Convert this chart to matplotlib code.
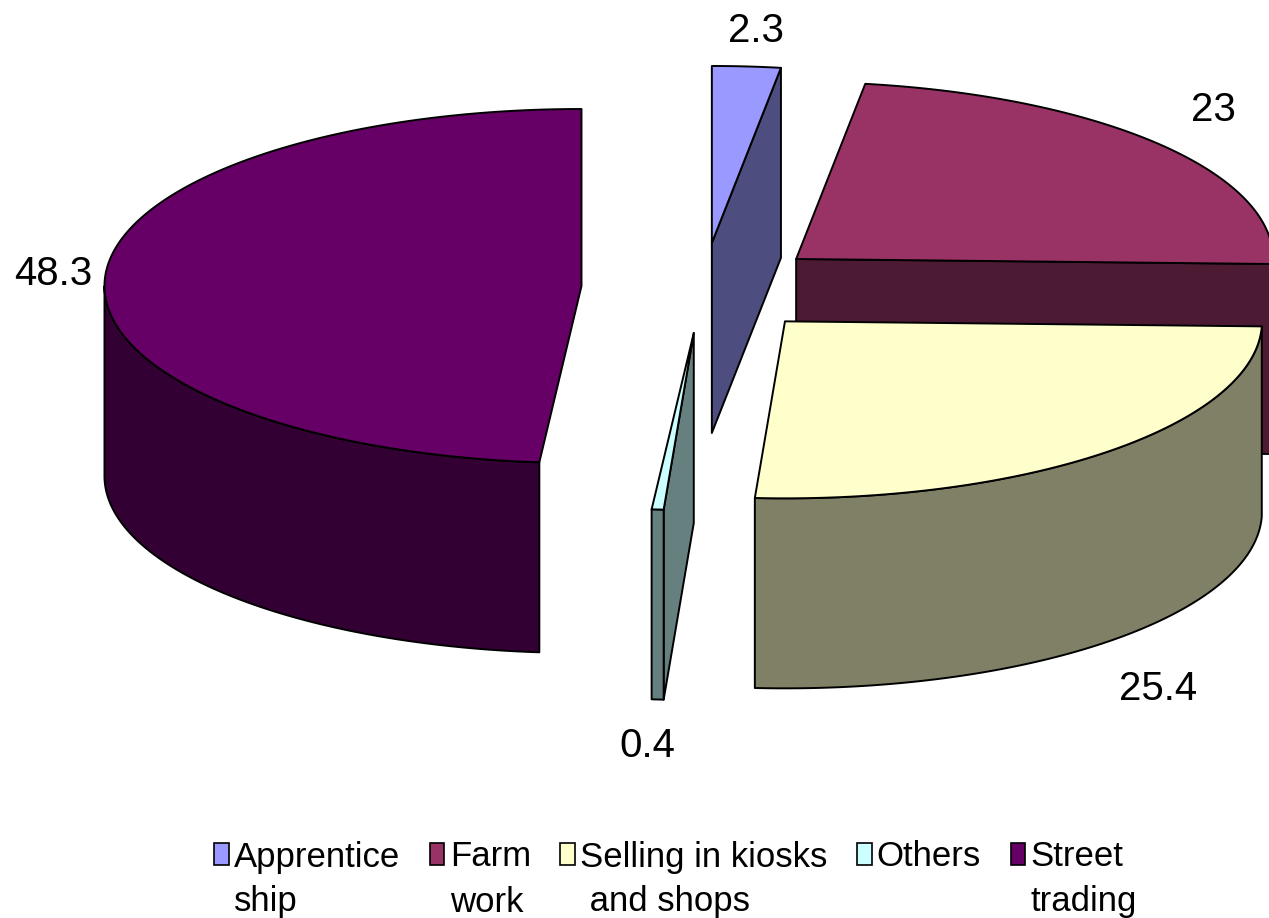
import numpy as np
import matplotlib
matplotlib.use("Agg")
import matplotlib.pyplot as plt
from matplotlib.patches import Polygon, Patch
from matplotlib.colors import to_rgb

plt.rcParams['font.family'] = ['Liberation Sans', 'DejaVu Sans']

# data
legend_first = ["Apprentice", "Farm", "Selling in kiosks", "Others", "Street"]
legend_second = ["ship", "work", " and shops", "", "trading"]
values = [2.3, 23, 25.4, 0.4, 48.3]
value_texts = ["2.3", "23", "25.4", "0.4", "48.3"]
top_colors = ["#9999FF", "#993366", "#FFFFCC", "#CCFFFF", "#660066"]

# geometry of the 3d pie (pixel space, y down)
cx, cy = 703, 288
rx, ry = 477, 177
depth = 190
explode = 0.255

def pt(c, th, down=0):
    t = np.radians(th)
    return (c[0] + rx * np.sin(t), c[1] - ry * np.cos(t) + down)

def arc(c, a, b, down=0):
    n = max(int(abs(b - a) * 2), 2)
    return [pt(c, t, down) for t in np.linspace(a, b, n)]

W, H = 1269, 918
fig = plt.figure(figsize=(W / 100, H / 100), dpi=100)
ax = fig.add_axes([0, 0, 1, 1])
ax.set_xlim(0, W)
ax.set_ylim(H, 0)
ax.axis('off')

total = sum(values)
edges = np.concatenate([[0], np.cumsum(values) / total * 360])

slices = []
for i in range(len(values)):
    a, b = edges[i], edges[i + 1]
    m = np.radians((a + b) / 2)
    c = (cx + explode * rx * np.sin(m), cy - explode * ry * np.cos(m))
    slices.append((c[1], i, a, b, c))

kw = dict(edgecolor='black', linewidth=1.4, joinstyle='round')
for _, i, a, b, c in sorted(slices):  # back to front
    side = tuple(0.5 * np.array(to_rgb(top_colors[i])))
    # cut faces (excel leaves them off the big slices)
    if b - a < 120:
        if np.sin(np.radians(a)) < -1e-6:
            p = pt(c, a)
            ax.add_patch(Polygon([c, p, (p[0], p[1] + depth), (c[0], c[1] + depth)], facecolor=side, **kw))
        if np.sin(np.radians(b)) > 1e-6:
            p = pt(c, b)
            ax.add_patch(Polygon([c, p, (p[0], p[1] + depth), (c[0], c[1] + depth)], facecolor=side, **kw))
    # outer wall, front half only
    lo, hi = max(a, 90), min(b, 270)
    if hi > lo:
        ax.add_patch(Polygon(arc(c, lo, hi) + arc(c, hi, lo, depth), facecolor=side, **kw))
    # top
    ax.add_patch(Polygon([c] + arc(c, a, b), facecolor=top_colors[i], **kw))
    # value label just outside the rim at the mid angle
    mid = (a + b) / 2
    s, co = np.sin(np.radians(mid)), np.cos(np.radians(mid))
    px, py = pt(c, mid, depth if co < 0 else 0)
    gap = 35 if co > 0 else 47
    lx = px + 52 * np.clip(s * 2.5, -1, 1)
    ly = py - gap * np.clip(co * 3, -1, 1)
    ax.text(lx, ly, value_texts[i], fontsize=29, ha='center', va='center')

handles = [Patch(facecolor=col, edgecolor='black', linewidth=1.2) for col in top_colors]
leg = fig.legend(handles, legend_first, loc='center', bbox_to_anchor=(0.527, 1 - 857 / H),
                 ncol=5, frameon=False, fontsize=25, handlelength=0.42, handleheight=0.58,
                 handletextpad=0.15, columnspacing=0.85, borderaxespad=0, borderpad=0)

# second lines of the wrapped legend labels, under the first ones
fig.canvas.draw()
inv = fig.transFigure.inverted()
for t, s in zip(leg.get_texts(), legend_second):
    if not s:
        continue
    bb = t.get_window_extent()
    x, y = inv.transform((bb.x0, bb.y0 - 12))
    fig.text(x, y, s, fontsize=25, ha='left', va='top')

fig.savefig("out.png", dpi=100)
